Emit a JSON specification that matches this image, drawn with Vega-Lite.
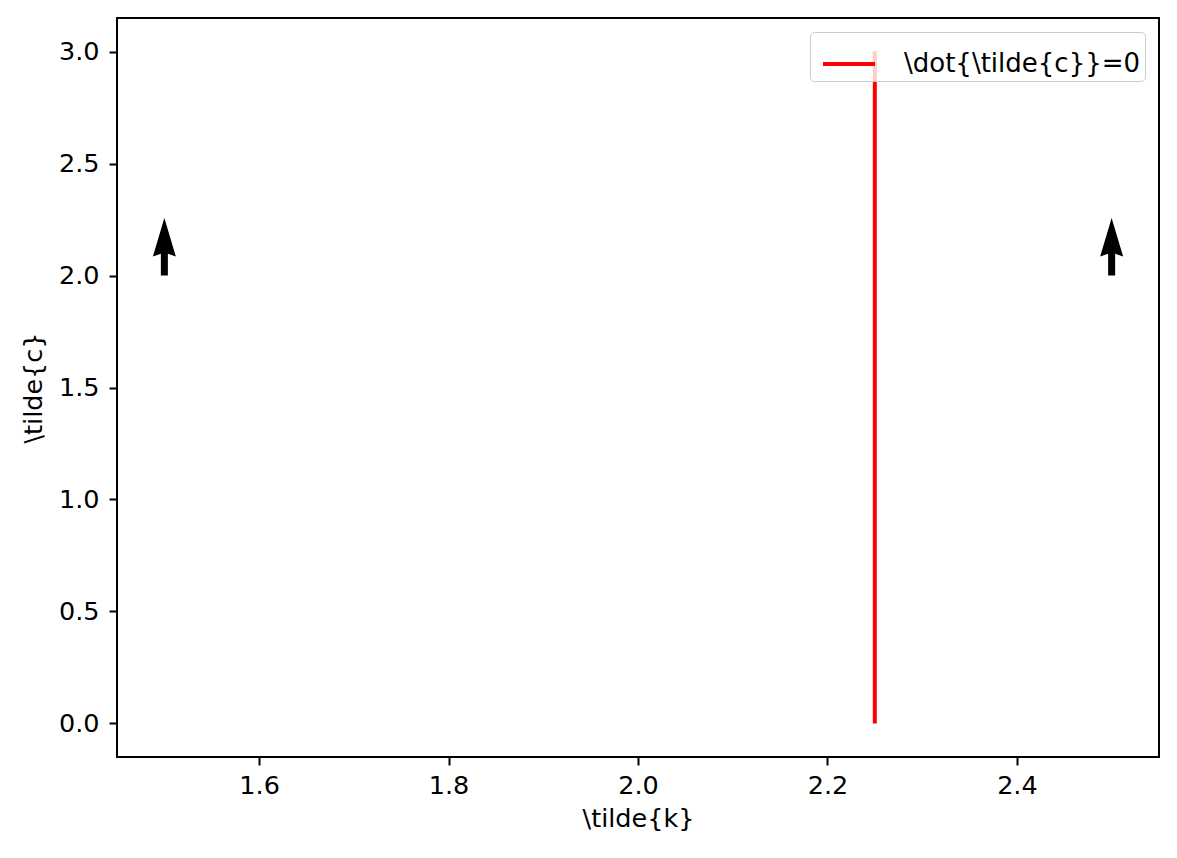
{
  "$schema": "https://vega.github.io/schema/vega-lite/v6.json",
  "width": 1042,
  "height": 739,
  "autosize": {"type": "none"},
  "padding": {"left": 117, "top": 18, "right": 18, "bottom": 101},
  "background": "white",
  "config": {
    "font": "DejaVu Sans",
    "view": {"stroke": "black", "strokeWidth": 2},
    "axis": {
      "grid": false,
      "domain": false,
      "tickColor": "black",
      "tickWidth": 2,
      "tickSize": 8,
      "labelFont": "DejaVu Sans",
      "labelFontSize": 25.5,
      "labelColor": "black",
      "titleFont": "DejaVu Sans",
      "titleFontSize": 25.5,
      "titleFontWeight": "normal",
      "titleColor": "black"
    }
  },
  "datasets": {
    "nullcline": [
      {"k": 2.25, "c": 0, "series": "\\dot{\\tilde{c}}=0"},
      {"k": 2.25, "c": 3, "series": "\\dot{\\tilde{c}}=0"}
    ],
    "arrows": [
      {"k": 1.5, "c": 2.0},
      {"k": 2.5, "c": 2.0}
    ]
  },
  "layer": [
    {
      "data": {"name": "nullcline"},
      "mark": {"type": "line", "strokeWidth": 4, "clip": true},
      "encoding": {
        "x": {
          "field": "k", "type": "quantitative",
          "scale": {"domain": [1.45, 2.55], "nice": false, "zero": false},
          "axis": {"title": "\\tilde{k}", "values": [1.6, 1.8, 2.0, 2.2, 2.4], "format": ".1f", "labelPadding": 8, "titlePadding": 8}
        },
        "y": {
          "field": "c", "type": "quantitative",
          "scale": {"domain": [-0.15, 3.15], "nice": false, "zero": false},
          "axis": {"title": "\\tilde{c}", "values": [0, 0.5, 1, 1.5, 2, 2.5, 3], "format": ".1f", "labelPadding": 10, "titlePadding": 12}
        },
        "color": {
          "field": "series", "type": "nominal",
          "scale": {"range": ["#ff0000"]},
          "legend": {
            "title": null,
            "orient": "top-right",
            "offset": 14,
            "symbolType": "stroke",
            "symbolSize": 2704,
            "symbolStrokeWidth": 4,
            "symbolOffset": 7,
            "labelFontSize": 26,
            "labelFont": "DejaVu Sans",
            "labelColor": "black",
            "labelLimit": 600,
            "labelOffset": 27,
            "padding": 4,
            "fillColor": "rgba(255,255,255,0.8)",
            "strokeColor": "#cccccc",
            "cornerRadius": 4
          }
        }
      }
    },
    {
      "data": {"name": "arrows"},
      "mark": {
        "type": "point",
        "filled": true,
        "opacity": 1,
        "color": "black",
        "size": 3306,
        "shape": "M -0.122 0 L 0.122 0 L 0.122 -0.755 L 0.4 -0.661 L 0 -2 L -0.4 -0.661 L -0.122 -0.755 Z"
      },
      "encoding": {
        "x": {"field": "k", "type": "quantitative"},
        "y": {"field": "c", "type": "quantitative"}
      }
    }
  ]
}
